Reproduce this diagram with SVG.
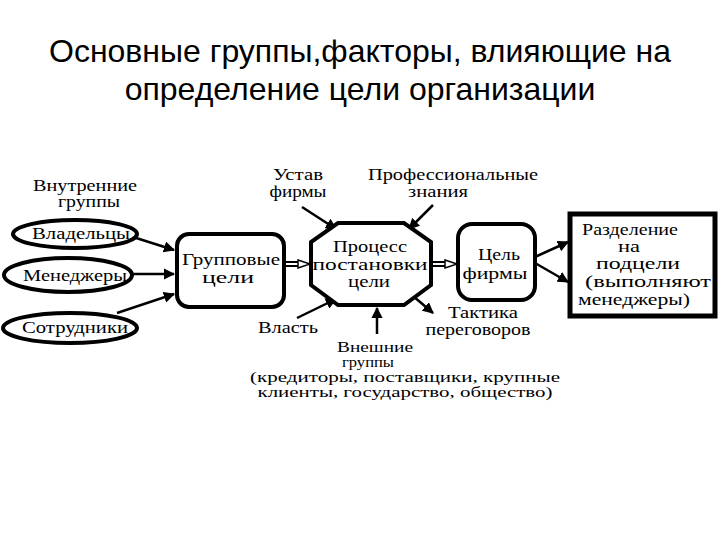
<svg xmlns="http://www.w3.org/2000/svg" width="720" height="540" viewBox="0 0 720 540">
<style>
.title{font-family:"Liberation Sans",Arial,sans-serif;font-size:32px;fill:#000;text-anchor:middle}
.t{font-family:"Liberation Serif","Times New Roman",serif;font-size:16px;fill:#000;text-anchor:middle}
.s{font-size:14px}
.shape{fill:#fff;stroke:#000;stroke-width:4}
.ln{stroke:#000;stroke-width:2.5;fill:none;marker-end:url(#ah)}
.dbl{stroke:#000;stroke-width:6;fill:none}
.dbli{stroke:#fff;stroke-width:2;fill:none}
.hh{fill:#fff;stroke:#000;stroke-width:1.5}
</style>
<defs>
<marker id="ah" viewBox="0 0 10 10" refX="9" refY="5" markerWidth="4.5" markerHeight="4.5" orient="auto" markerUnits="strokeWidth">
<path d="M0,0 L10,5 L0,10 z" fill="#000"/>
</marker>
</defs>
<rect width="720" height="540" fill="#fff"/>
<g id="title">
<text class="title" x="360" y="62">Основные группы,факторы, влияющие на</text>
<text class="title" x="360" y="100">определение цели организации</text>
</g>
<g id="connectors">
<line class="ln" x1="133" y1="237" x2="174" y2="250"/>
<line class="ln" x1="132" y1="274" x2="174" y2="274"/>
<line class="ln" x1="117" y1="313" x2="174" y2="294"/>
<line class="ln" x1="302" y1="207" x2="336" y2="229"/>
<line class="ln" x1="433" y1="205" x2="409" y2="229"/>
<line class="ln" x1="297" y1="318" x2="336" y2="299"/>
<line class="ln" x1="377" y1="334" x2="377" y2="308"/>
<line class="ln" x1="413" y1="296" x2="433" y2="313"/>
<line class="ln" x1="535" y1="257" x2="568" y2="242"/>
<line class="ln" x1="535" y1="263" x2="568" y2="282"/>
<g id="dbl1">
<line class="dbl" x1="285" y1="264" x2="299" y2="264"/>
<line class="dbli" x1="284" y1="264" x2="300" y2="264"/>
<path class="hh" d="M298,260 L310,264 L298,268 z"/>
</g>
<g id="dbl2">
<line class="dbl" x1="432" y1="264" x2="446" y2="264"/>
<line class="dbli" x1="431" y1="264" x2="447" y2="264"/>
<path class="hh" d="M445,260 L457,264 L445,268 z"/>
</g>
</g>
<g id="internal-label">
<text class="t" x="85" y="191" textLength="104" lengthAdjust="spacingAndGlyphs">Внутренние</text>
<text class="t" x="89" y="207" textLength="62" lengthAdjust="spacingAndGlyphs">группы</text>
</g>
<g id="owners">
<ellipse class="shape" cx="75" cy="234" rx="62" ry="14"/>
<text class="t" x="81" y="239" textLength="98" lengthAdjust="spacingAndGlyphs">Владельцы</text>
</g>
<g id="managers">
<ellipse class="shape" cx="68" cy="275" rx="64" ry="17"/>
<text class="t" x="75" y="281" textLength="104" lengthAdjust="spacingAndGlyphs">Менеджеры</text>
</g>
<g id="employees">
<ellipse class="shape" cx="70" cy="328" rx="67" ry="15"/>
<text class="t" x="75" y="333" textLength="106" lengthAdjust="spacingAndGlyphs">Сотрудники</text>
</g>
<g id="group-goals">
<rect class="shape" x="177" y="234" width="107" height="73" rx="12"/>
<text class="t" x="231" y="265" textLength="98" lengthAdjust="spacingAndGlyphs">Групповые</text>
<text class="t" x="228" y="283" textLength="52" lengthAdjust="spacingAndGlyphs">цели</text>
</g>
<g id="process">
<polygon class="shape" points="338,223 404,223 431,242 431,285 404,305 338,305 311,285 311,242"/>
<text class="t" x="370" y="252" textLength="74" lengthAdjust="spacingAndGlyphs">Процесс</text>
<text class="t" x="370" y="270" textLength="115" lengthAdjust="spacingAndGlyphs">постановки</text>
<text class="t" x="369" y="287" textLength="42" lengthAdjust="spacingAndGlyphs">цели</text>
</g>
<g id="firm-goal">
<rect class="shape" x="458" y="224" width="77" height="76" rx="14"/>
<text class="t" x="499" y="260" textLength="42" lengthAdjust="spacingAndGlyphs">Цель</text>
<text class="t" x="495" y="279" textLength="65" lengthAdjust="spacingAndGlyphs">фирмы</text>
</g>
<g id="subgoals">
<rect x="570" y="214" width="145" height="102" fill="#fff" stroke="#000" stroke-width="5"/>
<text class="t" x="630" y="235" textLength="96" lengthAdjust="spacingAndGlyphs">Разделение</text>
<text class="t" x="629" y="252" textLength="22" lengthAdjust="spacingAndGlyphs">на</text>
<text class="t" x="638" y="269" textLength="84" lengthAdjust="spacingAndGlyphs">подцели</text>
<text class="t" x="648" y="287" textLength="126" lengthAdjust="spacingAndGlyphs">(выполняют</text>
<text class="t" x="634" y="305" textLength="112" lengthAdjust="spacingAndGlyphs">менеджеры)</text>
</g>
<g id="charter">
<text class="t" x="298" y="180" textLength="50" lengthAdjust="spacingAndGlyphs">Устав</text>
<text class="t" x="298" y="197" textLength="57" lengthAdjust="spacingAndGlyphs">фирмы</text>
</g>
<g id="knowledge">
<text class="t" x="453" y="180" textLength="170" lengthAdjust="spacingAndGlyphs">Профессиональные</text>
<text class="t" x="438" y="197" textLength="60" lengthAdjust="spacingAndGlyphs">знания</text>
</g>
<g id="power">
<text class="t" x="288" y="333" textLength="60" lengthAdjust="spacingAndGlyphs">Власть</text>
</g>
<g id="tactics">
<text class="t" x="483" y="318" textLength="70" lengthAdjust="spacingAndGlyphs">Тактика</text>
<text class="t" x="478" y="335" textLength="105" lengthAdjust="spacingAndGlyphs">переговоров</text>
</g>
<g id="external">
<text class="t s" x="375" y="352" textLength="76" lengthAdjust="spacingAndGlyphs">Внешние</text>
<text class="t s" x="368" y="367" textLength="52" lengthAdjust="spacingAndGlyphs">группы</text>
<text class="t s" x="405" y="382" textLength="310" lengthAdjust="spacingAndGlyphs">(кредиторы, поставщики, крупные</text>
<text class="t s" x="405" y="397" textLength="295" lengthAdjust="spacingAndGlyphs">клиенты, государство, общество)</text>
</g>
</svg>
